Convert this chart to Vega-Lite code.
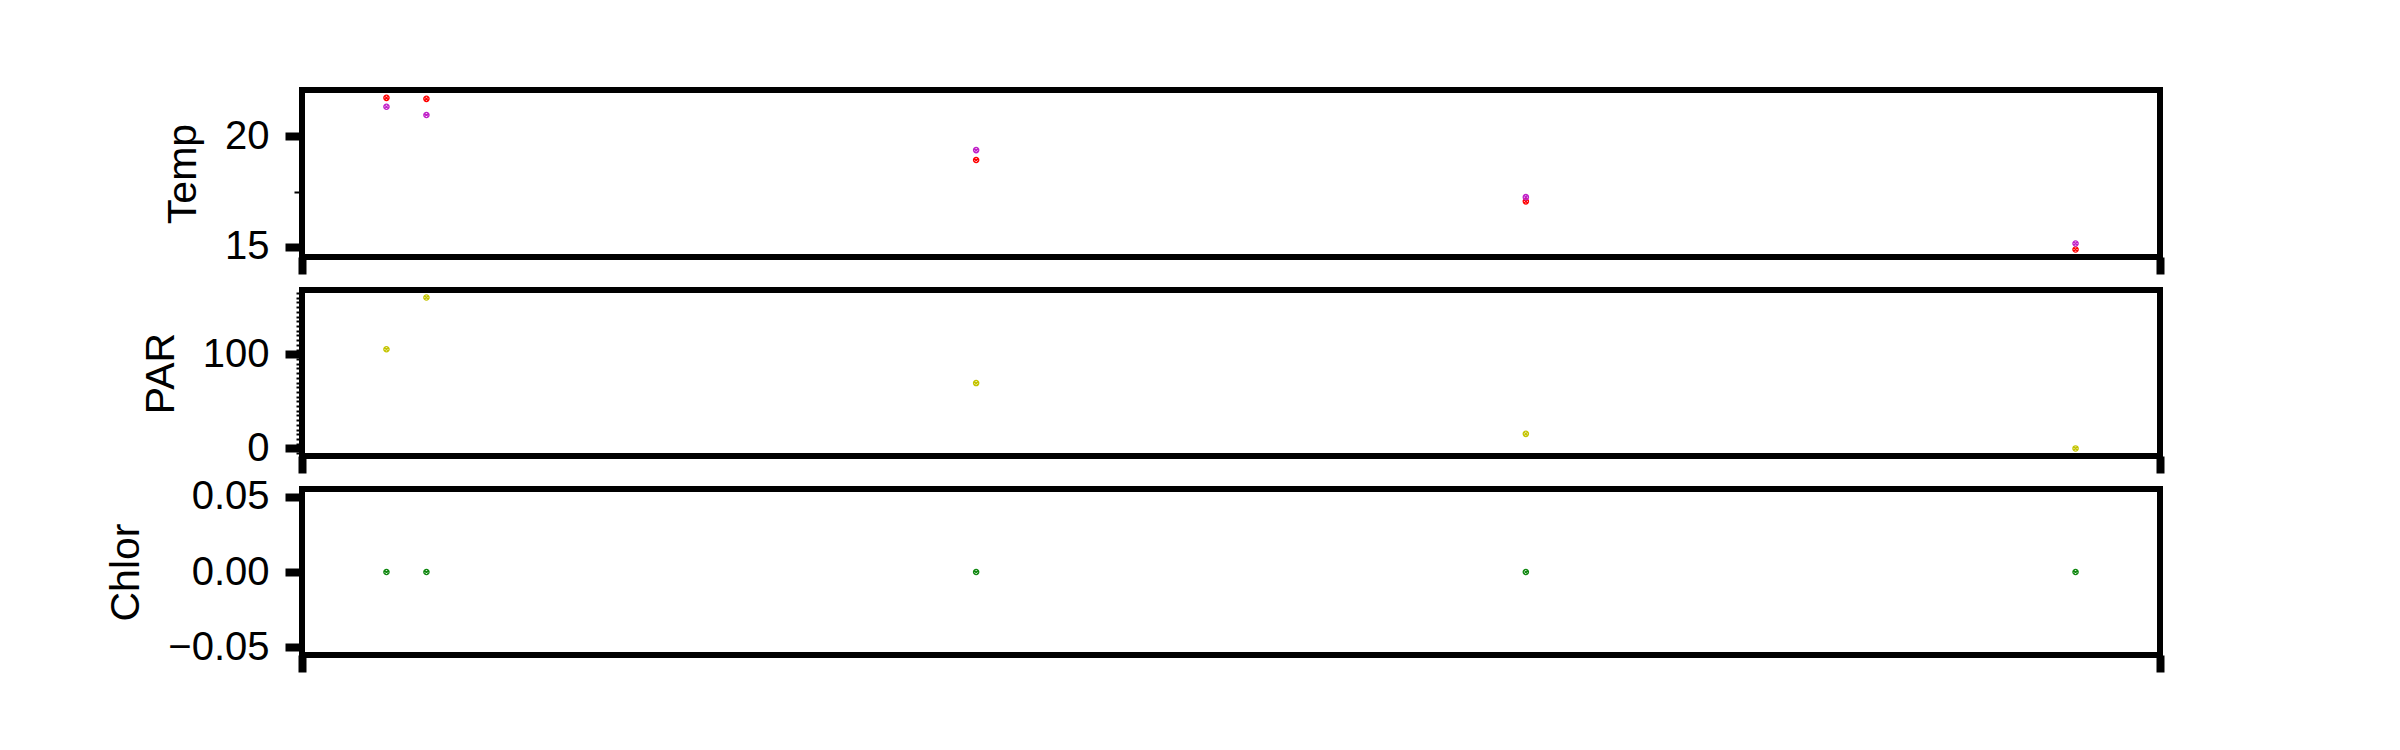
{
  "$schema": "https://vega.github.io/schema/vega-lite/v6.json",
  "padding": {"left": 102, "top": 87, "right": 0, "bottom": 0},
  "background": "white",
  "config": {
    "font": "Liberation Sans",
    "view": {"stroke": "black", "strokeWidth": 6},
    "axis": {
      "labelFont": "Liberation Sans",
      "titleFont": "Liberation Sans",
      "labelFontSize": 40,
      "titleFontSize": 41,
      "titleFontWeight": "normal",
      "labelColor": "black",
      "titleColor": "black",
      "tickColor": "black",
      "domain": false,
      "grid": false
    }
  },
  "datasets": {
    "temp": [
      {"x": 0, "series": "T1", "value": 21.745},
      {"x": 0, "series": "T2", "value": 21.34},
      {"x": 0.8, "series": "T1", "value": 21.70},
      {"x": 0.8, "series": "T2", "value": 20.97},
      {"x": 11.8, "series": "T1", "value": 18.93},
      {"x": 11.8, "series": "T2", "value": 19.38},
      {"x": 22.8, "series": "T1", "value": 17.06},
      {"x": 22.8, "series": "T2", "value": 17.25},
      {"x": 33.8, "series": "T1", "value": 14.88},
      {"x": 33.8, "series": "T2", "value": 15.15}
    ],
    "par": [
      {"x": 0, "value": 105.3},
      {"x": 0.8, "value": 160.2},
      {"x": 11.8, "value": 69.4},
      {"x": 22.8, "value": 15.5},
      {"x": 33.8, "value": 0}
    ],
    "chlor": [
      {"x": 0, "value": 0},
      {"x": 0.8, "value": 0},
      {"x": 11.8, "value": 0},
      {"x": 22.8, "value": 0},
      {"x": 33.8, "value": 0}
    ]
  },
  "bounds": "flush",
  "spacing": 33,
  "vconcat": [
    {
      "width": 1858,
      "height": 167,
      "data": {"name": "temp"},
      "resolve": {"axis": {"y": "independent"}},
      "layer": [
        {
          "mark": {"type": "point", "shape": "M-1,0A1,1,0,1,1,1,0A1,1,0,1,1,-1,0ZM-0.7,-0.7L0.7,0.7M-0.7,0.7L0.7,-0.7", "filled": false, "size": 28, "strokeWidth": 1.3, "opacity": 1},
          "encoding": {
            "x": {"field": "x", "type": "quantitative", "scale": {"domain": [-1.69, 35.49], "nice": false, "zero": false}, "axis": {"values": [-1.69, 35.49], "labels": false, "title": null, "tickSize": 17, "tickWidth": 8}},
            "y": {"field": "value", "type": "quantitative", "scale": {"domain": [14.54, 22.1], "nice": false, "zero": false}, "axis": {"values": [15, 20], "title": "Temp", "tickSize": 17, "tickWidth": 8, "labelPadding": 16, "titlePadding": 20, "orient": "left"}},
            "color": {"field": "series", "type": "nominal", "scale": {"domain": ["T1", "T2"], "range": ["#ff0000", "#c020c8"]}, "legend": null}
          }
        },
        {
          "mark": {"type": "point", "opacity": 0},
          "encoding": {
            "y": {"field": "value", "type": "quantitative", "axis": {"values": [17.5], "labels": false, "title": null, "tickSize": 8, "tickWidth": 2, "orient": "left"}}
          }
        }
      ]
    },
    {
      "width": 1858,
      "height": 166,
      "data": {"name": "par"},
      "resolve": {"axis": {"y": "independent"}},
      "layer": [
        {
          "mark": {"type": "point", "shape": "M-1,0A1,1,0,1,1,1,0A1,1,0,1,1,-1,0ZM-0.7,-0.7L0.7,0.7M-0.7,0.7L0.7,-0.7", "filled": false, "size": 28, "strokeWidth": 1.3, "opacity": 1, "color": "#c4c400"},
          "encoding": {
            "x": {"field": "x", "type": "quantitative", "scale": {"domain": [-1.69, 35.49], "nice": false, "zero": false}, "axis": {"values": [-1.69, 35.49], "labels": false, "title": null, "tickSize": 17, "tickWidth": 8}},
            "y": {"field": "value", "type": "quantitative", "scale": {"domain": [-8.01, 168.2], "nice": false, "zero": false}, "axis": {"values": [0, 100], "title": "PAR", "tickSize": 17, "tickWidth": 8, "labelPadding": 16, "titlePadding": 20, "orient": "left"}}
          }
        },
        {
          "mark": {"type": "point", "opacity": 0},
          "encoding": {
            "y": {"field": "value", "type": "quantitative", "axis": {"values": [-5, 5, 10, 15, 20, 25, 30, 35, 40, 45, 50, 55, 60, 65, 70, 75, 80, 85, 90, 95, 105, 110, 115, 120, 125, 130, 135, 140, 145, 150, 155, 160, 165], "labels": false, "title": null, "tickSize": 6, "tickWidth": 2, "orient": "left"}}
          }
        }
      ]
    },
    {
      "width": 1858,
      "height": 166,
      "data": {"name": "chlor"},
      "mark": {"type": "point", "shape": "M-1,0A1,1,0,1,1,1,0A1,1,0,1,1,-1,0ZM-0.7,-0.7L0.7,0.7M-0.7,0.7L0.7,-0.7", "filled": false, "size": 28, "strokeWidth": 1.3, "opacity": 1, "color": "#108810"},
      "encoding": {
        "x": {"field": "x", "type": "quantitative", "scale": {"domain": [-1.69, 35.49], "nice": false, "zero": false}, "axis": {"values": [-1.69, 35.49], "labels": false, "title": null, "tickSize": 17, "tickWidth": 8}},
        "y": {"field": "value", "type": "quantitative", "scale": {"domain": [-0.055, 0.055], "nice": false, "zero": false}, "axis": {"values": [-0.05, 0, 0.05], "format": ".2f", "title": "Chlor", "tickSize": 17, "tickWidth": 8, "labelPadding": 16, "titlePadding": 20, "orient": "left"}}
      }
    }
  ]
}
